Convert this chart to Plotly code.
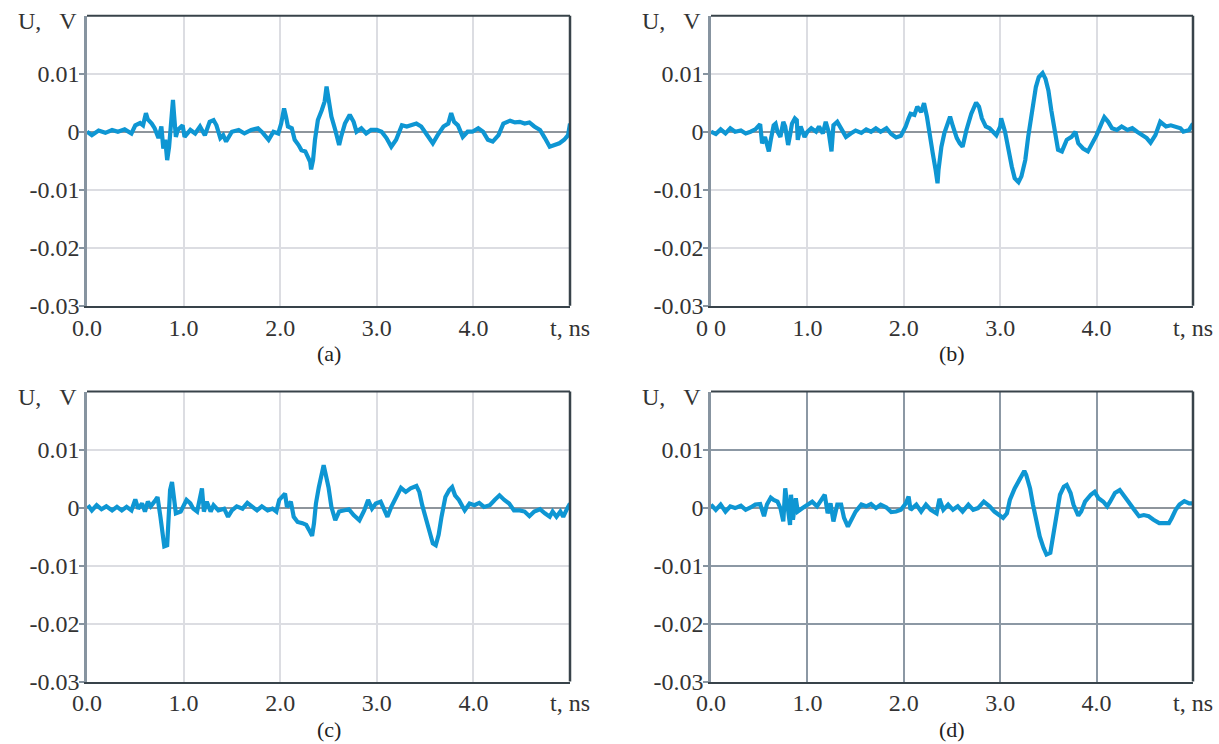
import plotly.graph_objects as go

# ---------------- data (t in ns, U in V) ----------------
t_a = [0.00, 0.05, 0.12, 0.19, 0.26, 0.32, 0.39, 0.46, 0.50, 0.55, 0.58, 0.61, 0.63, 0.67, 0.70, 0.74, 0.77,
       0.79, 0.81, 0.83, 0.85, 0.87, 0.89, 0.90, 0.92, 0.94, 0.99, 1.01, 1.07, 1.12, 1.17, 1.22, 1.27, 1.31,
       1.34, 1.38, 1.41, 1.44, 1.50, 1.57, 1.63, 1.70, 1.77, 1.82, 1.88, 1.93, 1.98, 2.01, 2.04, 2.06, 2.08,
       2.12, 2.15, 2.19, 2.22, 2.26, 2.29, 2.31, 2.32, 2.34, 2.36, 2.39, 2.43, 2.46, 2.48, 2.50, 2.53, 2.57,
       2.61, 2.63, 2.67, 2.72, 2.76, 2.79, 2.84, 2.89, 2.94, 3.00, 3.05, 3.10, 3.15, 3.20, 3.26, 3.31, 3.36,
       3.41, 3.46, 3.51, 3.58, 3.63, 3.69, 3.74, 3.77, 3.80, 3.84, 3.89, 3.94, 3.99, 4.05, 4.10, 4.15, 4.20,
       4.26, 4.31, 4.38, 4.43, 4.48, 4.53, 4.58, 4.63, 4.69, 4.74, 4.79, 4.84, 4.89, 4.94, 4.98, 5.00]
u_a = [0.0000, -0.0006, 0.0002, -0.0002, 0.0003, 0.0000, 0.0004, -0.0003, 0.0011, 0.0015, 0.0011, 0.0032,
       0.0021, 0.0014, 0.0006, -0.0011, 0.0009, -0.0029, -0.0014, -0.0049, -0.0026, 0.0026, 0.0055, 0.0032,
       -0.0009, 0.0003, 0.0011, -0.0009, 0.0003, -0.0003, 0.0009, -0.0006, 0.0017, 0.0020, 0.0011, -0.0011,
       -0.0006, -0.0017, 0.0000, 0.0003, -0.0003, 0.0003, 0.0006, -0.0002, -0.0014, 0.0000, -0.0003, 0.0014,
       0.0040, 0.0026, 0.0009, 0.0006, -0.0014, -0.0023, -0.0032, -0.0034, -0.0043, -0.0052, -0.0065, -0.0049,
       -0.0014, 0.0020, 0.0037, 0.0052, 0.0078, 0.0060, 0.0026, 0.0003, -0.0023, -0.0009, 0.0014, 0.0029,
       0.0017, 0.0000, 0.0006, -0.0003, 0.0003, 0.0003, 0.0000, -0.0011, -0.0026, -0.0014, 0.0011, 0.0009,
       0.0011, 0.0014, 0.0009, -0.0003, -0.0020, -0.0006, 0.0009, 0.0014, 0.0032, 0.0017, 0.0011, -0.0009,
       0.0000, 0.0000, 0.0006, 0.0000, -0.0014, -0.0017, -0.0006, 0.0014, 0.0019, 0.0016, 0.0017, 0.0014,
       0.0016, 0.0009, 0.0003, -0.0011, -0.0026, -0.0023, -0.0020, -0.0014, -0.0006, 0.0014]

t_b = [0.00, 0.05, 0.10, 0.15, 0.20, 0.25, 0.31, 0.36, 0.41, 0.46, 0.51, 0.53, 0.56, 0.58, 0.60, 0.62, 0.65,
       0.67, 0.69, 0.72, 0.75, 0.77, 0.80, 0.82, 0.84, 0.87, 0.89, 0.90, 0.93, 0.97, 1.00, 1.04, 1.09, 1.12,
       1.16, 1.19, 1.22, 1.25, 1.27, 1.31, 1.35, 1.40, 1.45, 1.50, 1.56, 1.61, 1.66, 1.71, 1.76, 1.82, 1.87,
       1.92, 1.97, 2.02, 2.05, 2.07, 2.11, 2.14, 2.18, 2.21, 2.24, 2.27, 2.30, 2.33, 2.35, 2.36, 2.39, 2.42,
       2.46, 2.48, 2.51, 2.55, 2.58, 2.61, 2.65, 2.70, 2.75, 2.78, 2.81, 2.85, 2.89, 2.93, 2.96, 3.00, 3.01,
       3.05, 3.08, 3.12, 3.15, 3.19, 3.22, 3.26, 3.29, 3.33, 3.37, 3.40, 3.44, 3.47, 3.50, 3.53, 3.57, 3.60,
       3.64, 3.69, 3.74, 3.78, 3.81, 3.86, 3.91, 3.95, 4.00, 4.05, 4.08, 4.12, 4.16, 4.21, 4.26, 4.32, 4.37,
       4.42, 4.47, 4.52, 4.56, 4.61, 4.66, 4.72, 4.77, 4.82, 4.87, 4.90, 4.96, 5.00]
u_b = [0.0000, -0.0004, 0.0004, -0.0003, 0.0006, 0.0000, 0.0002, -0.0003, 0.0000, 0.0004, 0.0013, -0.0020,
       -0.0009, -0.0026, -0.0034, -0.0014, 0.0011, 0.0014, 0.0000, -0.0009, 0.0017, 0.0009, -0.0023, -0.0006,
       0.0014, 0.0023, 0.0020, -0.0014, 0.0009, -0.0009, 0.0000, 0.0006, 0.0000, 0.0009, -0.0003, 0.0017,
       0.0000, -0.0034, 0.0011, 0.0017, 0.0006, -0.0009, -0.0003, 0.0002, -0.0002, 0.0004, 0.0000, 0.0006,
       0.0000, 0.0006, -0.0004, -0.0010, -0.0007, 0.0009, 0.0023, 0.0031, 0.0029, 0.0043, 0.0034, 0.0049,
       0.0026, -0.0009, -0.0037, -0.0066, -0.0089, -0.0066, -0.0026, -0.0003, 0.0014, 0.0026, 0.0009, -0.0011,
       -0.0020, -0.0026, 0.0003, 0.0031, 0.0050, 0.0043, 0.0023, 0.0009, 0.0006, 0.0000, -0.0006, 0.0009,
       0.0023, 0.0000, -0.0029, -0.0060, -0.0080, -0.0087, -0.0077, -0.0049, -0.0009, 0.0031, 0.0077, 0.0094,
       0.0101, 0.0091, 0.0071, 0.0037, -0.0003, -0.0031, -0.0034, -0.0014, -0.0009, 0.0000, -0.0020, -0.0029,
       -0.0034, -0.0023, -0.0006, 0.0014, 0.0025, 0.0017, 0.0006, 0.0003, 0.0009, 0.0003, 0.0006, 0.0000,
       -0.0006, -0.0011, -0.0019, -0.0006, 0.0017, 0.0009, 0.0011, 0.0009, 0.0006, 0.0000, 0.0003, 0.0014]

t_c = [0.01, 0.05, 0.10, 0.15, 0.20, 0.26, 0.31, 0.36, 0.41, 0.46, 0.50, 0.53, 0.57, 0.60, 0.63, 0.66, 0.71,
       0.73, 0.76, 0.78, 0.80, 0.83, 0.84, 0.86, 0.88, 0.90, 0.92, 0.97, 1.00, 1.03, 1.07, 1.10, 1.14, 1.16,
       1.19, 1.21, 1.24, 1.28, 1.31, 1.36, 1.42, 1.46, 1.50, 1.55, 1.61, 1.66, 1.71, 1.76, 1.81, 1.87, 1.92,
       1.96, 1.99, 2.02, 2.05, 2.07, 2.11, 2.14, 2.18, 2.23, 2.27, 2.30, 2.33, 2.35, 2.37, 2.40, 2.43, 2.45,
       2.47, 2.50, 2.53, 2.57, 2.61, 2.66, 2.71, 2.76, 2.82, 2.87, 2.91, 2.95, 2.99, 3.04, 3.08, 3.11, 3.15,
       3.20, 3.25, 3.30, 3.35, 3.41, 3.44, 3.47, 3.51, 3.54, 3.58, 3.61, 3.64, 3.67, 3.71, 3.75, 3.78, 3.81,
       3.85, 3.91, 3.96, 4.01, 4.06, 4.11, 4.17, 4.22, 4.27, 4.32, 4.37, 4.42, 4.48, 4.53, 4.58, 4.63, 4.69,
       4.74, 4.79, 4.82, 4.86, 4.90, 4.93, 4.97, 5.00]
u_c = [0.0004, -0.0005, 0.0004, -0.0003, 0.0002, -0.0005, 0.0001, -0.0005, 0.0001, -0.0005, 0.0014, -0.0002,
       0.0007, -0.0007, 0.0010, 0.0002, 0.0013, 0.0018, -0.0016, -0.0039, -0.0067, -0.0065, -0.0033, 0.0030,
       0.0044, 0.0018, -0.0010, -0.0007, 0.0004, 0.0013, 0.0007, -0.0002, -0.0007, 0.0013, 0.0033, -0.0007,
       0.0010, -0.0007, 0.0004, -0.0005, -0.0002, -0.0016, -0.0005, 0.0002, -0.0002, 0.0008, 0.0001, -0.0005,
       0.0002, -0.0005, -0.0002, -0.0007, 0.0013, 0.0018, 0.0024, 0.0001, 0.0010, -0.0016, -0.0025, -0.0027,
       -0.0030, -0.0039, -0.0049, -0.0027, 0.0007, 0.0035, 0.0058, 0.0073, 0.0058, 0.0035, 0.0001, -0.0022,
       -0.0007, -0.0005, -0.0003, -0.0013, -0.0022, -0.0005, 0.0013, -0.0002, 0.0007, 0.0010, -0.0007, -0.0016,
       0.0001, 0.0018, 0.0034, 0.0027, 0.0033, 0.0037, 0.0027, 0.0004, -0.0019, -0.0042, -0.0062, -0.0065,
       -0.0047, -0.0016, 0.0018, 0.0030, 0.0035, 0.0021, 0.0013, -0.0005, 0.0007, 0.0004, 0.0008, 0.0001,
       0.0004, 0.0013, 0.0021, 0.0013, 0.0007, -0.0005, -0.0005, -0.0007, -0.0015, -0.0007, -0.0003, -0.0010,
       -0.0016, -0.0007, -0.0016, -0.0007, -0.0016, -0.0002, 0.0007]

t_d = [0.00, 0.05, 0.10, 0.15, 0.20, 0.25, 0.31, 0.36, 0.41, 0.46, 0.51, 0.55, 0.58, 0.62, 0.65, 0.69, 0.72,
       0.75, 0.77, 0.79, 0.82, 0.83, 0.85, 0.88, 0.90, 0.95, 1.00, 1.05, 1.10, 1.16, 1.18, 1.21, 1.24, 1.27,
       1.31, 1.35, 1.38, 1.42, 1.46, 1.50, 1.56, 1.61, 1.66, 1.71, 1.76, 1.82, 1.87, 1.92, 1.97, 2.02, 2.05,
       2.07, 2.13, 2.18, 2.23, 2.28, 2.34, 2.37, 2.41, 2.46, 2.51, 2.56, 2.61, 2.67, 2.72, 2.77, 2.83, 2.89,
       2.94, 3.00, 3.03, 3.07, 3.10, 3.15, 3.19, 3.22, 3.25, 3.27, 3.31, 3.34, 3.38, 3.41, 3.45, 3.48, 3.52,
       3.55, 3.59, 3.62, 3.66, 3.69, 3.73, 3.76, 3.81, 3.84, 3.88, 3.94, 3.98, 4.02, 4.07, 4.11, 4.14, 4.19,
       4.24, 4.28, 4.33, 4.39, 4.44, 4.49, 4.54, 4.59, 4.65, 4.70, 4.75, 4.78, 4.82, 4.86, 4.91, 4.96, 5.00]
u_d = [0.0005, -0.0004, 0.0005, -0.0007, 0.0002, -0.0001, 0.0003, -0.0004, 0.0000, 0.0005, 0.0006, -0.0015,
       0.0005, 0.0017, 0.0013, 0.0010, -0.0001, -0.0024, 0.0033, 0.0005, -0.0030, 0.0022, -0.0021, 0.0016,
       -0.0007, -0.0001, 0.0005, 0.0010, 0.0002, 0.0016, 0.0022, -0.0010, 0.0007, -0.0024, 0.0005, 0.0005,
       -0.0018, -0.0033, -0.0021, -0.0007, 0.0005, 0.0002, 0.0006, -0.0001, 0.0005, 0.0000, -0.0008, -0.0007,
       -0.0004, 0.0007, 0.0019, -0.0004, 0.0005, -0.0007, 0.0005, -0.0004, -0.0010, 0.0015, -0.0004, 0.0005,
       -0.0004, 0.0002, -0.0007, 0.0005, -0.0004, -0.0001, 0.0010, 0.0002, -0.0007, -0.0013, -0.0018, -0.0010,
       0.0013, 0.0033, 0.0045, 0.0053, 0.0063, 0.0056, 0.0033, 0.0005, -0.0024, -0.0050, -0.0070, -0.0081,
       -0.0078, -0.0050, -0.0013, 0.0022, 0.0036, 0.0039, 0.0025, 0.0005, -0.0014, -0.0007, 0.0010, 0.0022,
       0.0027, 0.0016, 0.0010, 0.0002, 0.0010, 0.0025, 0.0030, 0.0022, 0.0010, -0.0004, -0.0015, -0.0013,
       -0.0015, -0.0021, -0.0027, -0.0027, -0.0027, -0.0018, -0.0004, 0.0005, 0.0011, 0.0007, 0.0007]

x_tickvals = [0, 1, 2, 3, 4, 5]
x_ticktext_std = ["0.0", "1.0", "2.0", "3.0", "4.0", "t, ns"]
x_ticktext_b = ["0 0", "1.0", "2.0", "3.0", "4.0", "t, ns"]
y_tickvals = [0.01, 0, -0.01, -0.02, -0.03]
y_ticktext = ["0.01", "0", "-0.01", "-0.02", "-0.03"]
panel_labels = ["(a)", "(b)", "(c)", "(d)"]
y_label = "U,&nbsp;&nbsp;&nbsp;V"

# ---------------- layout geometry ----------------
W, H = 1219, 744
x_left = [87 / W, 570 / W]
x_right = [711 / W, 1193 / W]
y_top = [1 - 305.7 / H, 1 - 15.7 / H]
y_bot = [1 - 681.5 / H, 1 - 391.5 / H]

LINE = "rgb(14,150,211)"
FONT = "Liberation Serif, Times New Roman, DejaVu Serif, serif"
FS = 24
TXT = "#333333"
AX_LEFT = "#8794a0"
AX_DARK = "#38434a"
GRID_LIGHT = "#dcdde2"
GRID_DARK = "#8c98a4"
ZERO = "#8e959c"

panels = [
    (t_a, u_a, x_left, y_top, x_ticktext_std, GRID_LIGHT),
    (t_b, u_b, x_right, y_top, x_ticktext_b, GRID_LIGHT),
    (t_c, u_c, x_left, y_bot, x_ticktext_std, GRID_LIGHT),
    (t_d, u_d, x_right, y_bot, x_ticktext_std, GRID_DARK),
]

fig = go.Figure()
layout = dict(
    template="none",
    width=W, height=H, margin=dict(l=0, r=0, t=0, b=0, pad=0), autosize=False,
    paper_bgcolor="white", plot_bgcolor="white", showlegend=False,
    font=dict(family=FONT, size=FS, color=TXT),
)
shapes = []
annotations = []
for i, (tt, uu, xd, yd, xtt, gcol) in enumerate(panels):
    n = i + 1
    xa = "x" if n == 1 else f"x{n}"
    ya = "y" if n == 1 else f"y{n}"
    fig.add_trace(go.Scatter(x=tt, y=uu, mode="lines", xaxis=xa, yaxis=ya,
                             line=dict(color=LINE, width=4.2), hoverinfo="skip"))
    layout[f"xaxis{'' if n == 1 else n}"] = dict(
        domain=xd, anchor=ya, range=[0, 5], tickvals=x_tickvals, ticktext=xtt, automargin=False,
        showgrid=True, gridcolor=gcol, gridwidth=2, zeroline=False,
        showline=True, linecolor=AX_DARK, linewidth=2, ticks="",
        ticklabelstandoff=-1, tickfont=dict(family=FONT, size=FS, color=TXT),
    )
    layout[f"yaxis{'' if n == 1 else n}"] = dict(
        domain=yd, anchor=xa, range=[-0.03, 0.02], tickvals=y_tickvals, ticktext=y_ticktext,
        automargin=False,
        showgrid=True, gridcolor=gcol, gridwidth=2,
        zeroline=True, zerolinecolor=ZERO, zerolinewidth=2,
        showline=True, linecolor=AX_LEFT, linewidth=2.5, ticks="outside", ticklen=5,
        tickcolor=AX_LEFT, tickwidth=2, ticklabelstandoff=-5,
        tickfont=dict(family=FONT, size=FS, color=TXT),
    )
    # top and right borders (dark)
    shapes.append(dict(type="line", xref=f"{xa} domain", yref=f"{ya} domain",
                       x0=0, x1=1, y0=1, y1=1, line=dict(color=AX_DARK, width=2)))
    shapes.append(dict(type="line", xref=f"{xa} domain", yref=f"{ya} domain",
                       x0=1, x1=1, y0=0, y1=1, line=dict(color=AX_DARK, width=2.5)))
    # y-axis title "U,  V"
    annotations.append(dict(text=y_label, xref="paper", yref="paper",
                            x=xd[0] - 8 / W, y=yd[1] - 5 / H, xanchor="right", yanchor="middle",
                            showarrow=False, font=dict(family=FONT, size=FS, color=TXT)))
    # panel caption
    annotations.append(dict(text=panel_labels[i], xref="paper", yref="paper",
                            x=(xd[0] + xd[1]) / 2, y=yd[0] - 48 / H, xanchor="center", yanchor="middle",
                            showarrow=False, font=dict(family=FONT, size=22, color="#222222")))

layout["shapes"] = shapes
layout["annotations"] = annotations
fig.update_layout(**layout)
fig.write_html("out.html")
